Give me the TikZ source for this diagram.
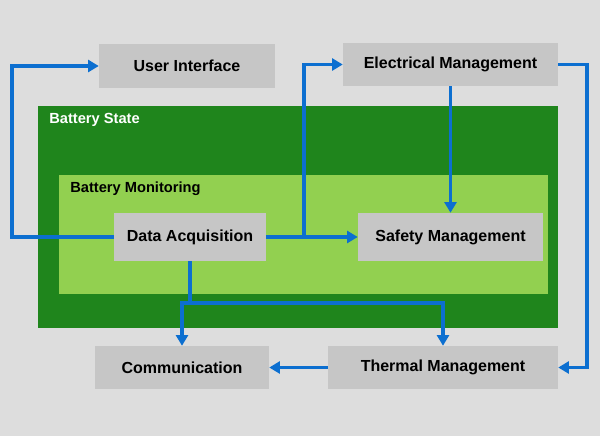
\documentclass[tikz,border=0pt]{standalone}
\usepackage{fontspec}
\setmainfont{Liberation Sans}
\usetikzlibrary{arrows.meta}
\definecolor{bggray}{HTML}{DDDDDD}
\definecolor{boxgray}{HTML}{C6C6C6}
\definecolor{darkgreen}{HTML}{1F851C}
\definecolor{lightgreen}{HTML}{92D050}
\definecolor{flowblue}{HTML}{0C6FD0}
\tikzset{
	box/.style={fill=boxgray,inner sep=0pt,font=\fontsize{12}{14}\selectfont\bfseries},
	group/.style={inner sep=0pt},
	grouplabel/.style={anchor=west,inner sep=0pt,font=\fontsize{11}{13}\selectfont\bfseries},
	flow/.style={draw=flowblue,line width=2.4pt,-{Triangle[length=8pt,width=9pt]}},
	link/.style={draw=flowblue,line width=2.4pt}
}
\begin{document}
\begin{tikzpicture}[x=0.75pt,y=-0.75pt]
	\fill[bggray] (0,0) rectangle (600,436);
	\useasboundingbox (0,0) rectangle (600,436);
	% groups
	\node[group,fill=darkgreen,minimum width=390pt,minimum height=166.5pt] (state) at (298,217) {};
	\node[grouplabel,text=white] (statelbl) at (49,120) {Battery State};
	\node[group,fill=lightgreen,minimum width=366.75pt,minimum height=89.25pt] (monitor) at (303.5,234.5) {};
	\node[grouplabel,text=black] (monitorlbl) at (70,189) {Battery Monitoring};
	% blocks
	\node[box,minimum width=132pt,minimum height=33pt] (ui) at (187,66) {User Interface};
	\node[box,minimum width=161.25pt,minimum height=32.25pt] (em) at (450.5,64.5) {Electrical Management};
	\node[box,minimum width=114pt,minimum height=36pt] (da) at (190,237) {Data Acquisition};
	\node[box,minimum width=138.75pt,minimum height=36pt] (sm) at (450.5,237) {Safety Management};
	\node[box,minimum width=130.5pt,minimum height=32.25pt] (cm) at (182,367.5) {Communication};
	\node[box,minimum width=172.5pt,minimum height=32.25pt] (tm) at (443,367.5) {Thermal Management};
	% connectors
	\coordinate (left) at (12,237);
	\coordinate (fork) at (304,237);
	\coordinate (right) at (587,64.5);
	\coordinate (split) at (190,303);
	\draw[flow] (da.west) -- (left) |- (ui.west);
	\draw[flow] (da.east) -- (sm.west);
	\draw[flow] (fork) |- (em.west);
	\draw[flow] (em.south) -- (sm.north);
	\draw[flow] (em.east) -- (right) |- (tm.east);
	\draw[link] (da.south) -- (split);
	\draw[flow] (split) -| (cm.north);
	\draw[flow] (split) -| (tm.north);
	\draw[flow] (tm.west) -- (cm.east);
\end{tikzpicture}
\end{document}
